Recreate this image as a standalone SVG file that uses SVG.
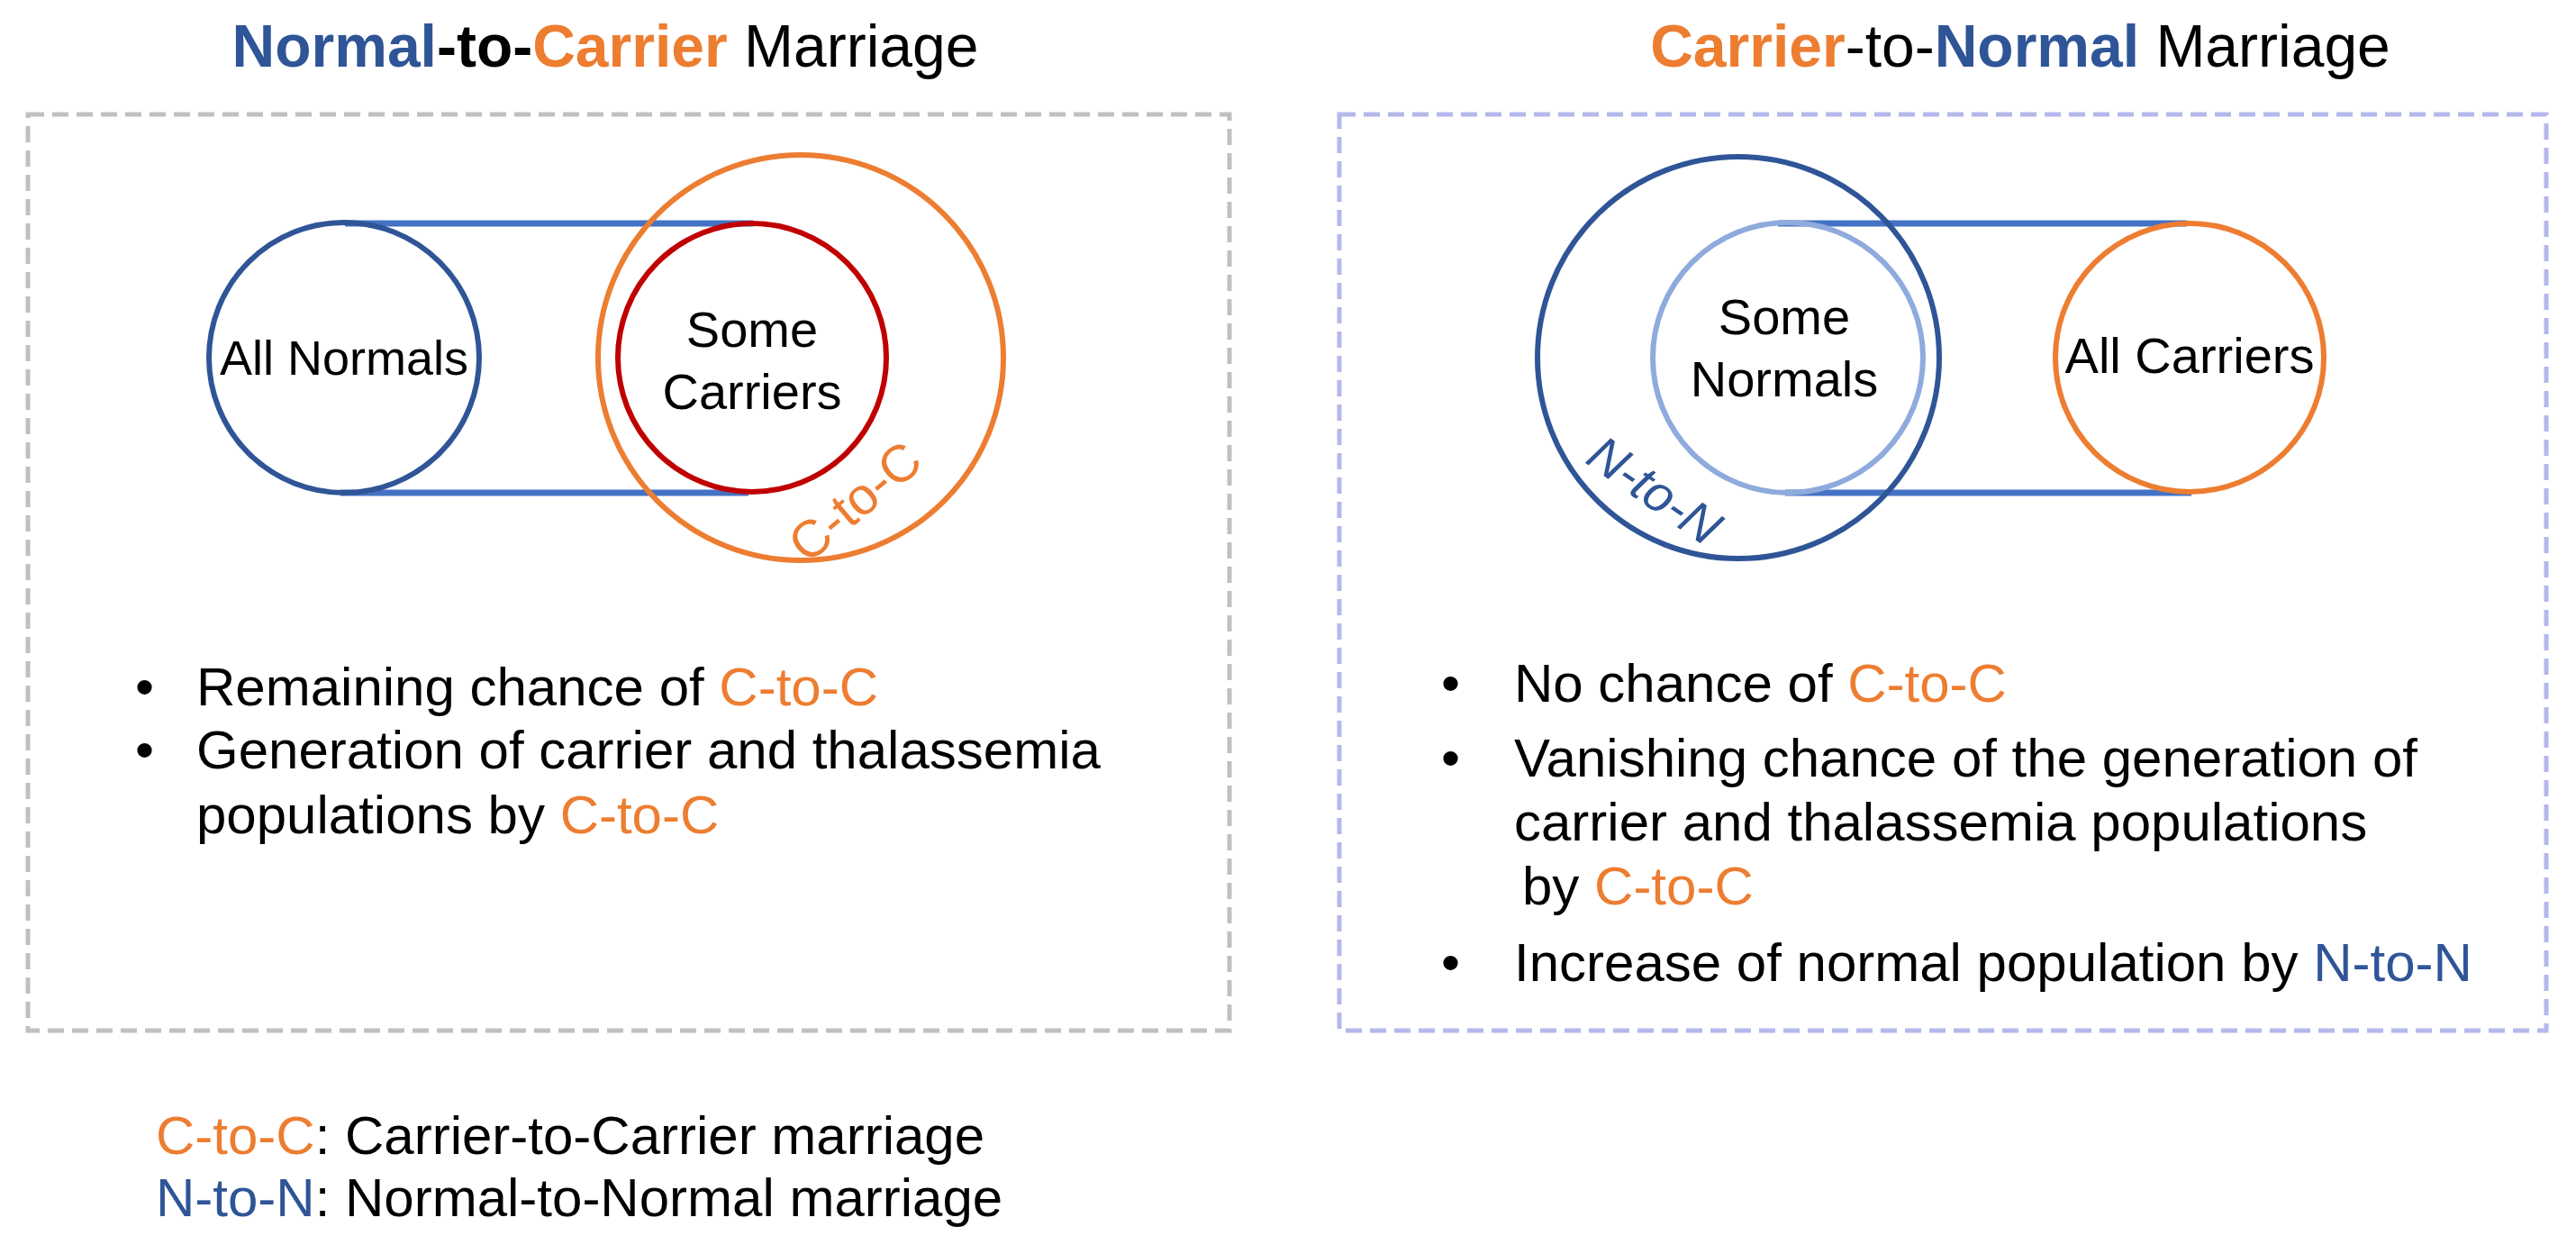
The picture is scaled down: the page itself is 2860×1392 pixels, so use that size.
<svg xmlns="http://www.w3.org/2000/svg" width="2860" height="1392" viewBox="0 0 2860 1392">
<style>
text{font-family:"Liberation Sans",Arial,sans-serif;fill:#000}
.t{font-size:66px}
.b{font-weight:bold}
.lbl{font-size:56px;text-anchor:middle}
.bul{font-size:60px}
.o{fill:#ed7d31}
.n{fill:#2f5597}
.c{fill:none;stroke-width:6}
.ln{stroke:#4472c4;stroke-width:7}
</style>
<rect width="2860" height="1392" fill="#fff"/>
<g id="titles">
<text class="t" x="672" y="74" text-anchor="middle"><tspan class="n b">Normal</tspan><tspan class="b">-to-</tspan><tspan class="o b">Carrier</tspan> Marriage</text>
<text class="t" x="2243" y="74" text-anchor="middle"><tspan class="o b">Carrier</tspan>-to-<tspan class="n b">Normal</tspan> Marriage</text>
</g>
<g id="boxes">
<rect x="31" y="127" width="1334" height="1017" fill="none" stroke="#c0c0c0" stroke-width="5" stroke-dasharray="18,9"/>
<rect x="1487" y="127" width="1340" height="1017" fill="none" stroke="#b4b8ec" stroke-width="5" stroke-dasharray="18,9"/>
</g>
<g id="connectors">
<line class="ln" x1="383" y1="248" x2="836" y2="248"/>
<line class="ln" x1="378" y1="547" x2="831" y2="547"/>
<line class="ln" x1="1974" y1="248" x2="2428" y2="248"/>
<line class="ln" x1="1982" y1="547" x2="2433" y2="547"/>
</g>
<g id="all-normals"><circle class="c" cx="382" cy="397" r="150" stroke="#2f5597"/><text class="lbl" x="382" y="416" style="font-size:54px">All Normals</text></g>
<g id="c-to-c-circle"><circle class="c" cx="889" cy="397" r="225" stroke="#ed7d31"/><text class="lbl o" x="0" y="0" transform="translate(962,572) rotate(-40)" style="font-size:58px">C-to-C</text></g>
<g id="some-carriers"><circle class="c" cx="835" cy="397" r="149" stroke="#c00000"/><text class="lbl" x="835" y="385">Some</text><text class="lbl" x="835" y="454">Carriers</text></g>
<g id="n-to-n-circle"><circle class="c" cx="1930" cy="397" r="223" stroke="#2f5597"/><text class="lbl n" x="0" y="0" transform="translate(1826,560) rotate(35)" style="font-size:56px;font-style:italic">N-to-N</text></g>
<g id="some-normals"><circle class="c" cx="1985" cy="397" r="150" stroke="#8faadc"/><text class="lbl" x="1981" y="371">Some</text><text class="lbl" x="1981" y="440">Normals</text></g>
<g id="all-carriers"><circle class="c" cx="2431" cy="397" r="149" stroke="#ed7d31"/><text class="lbl" x="2431" y="414">All Carriers</text></g>
<g id="left-bullets">
<text class="bul" x="150" y="783">•</text>
<text class="bul" x="218" y="783">Remaining chance of <tspan class="o">C-to-C</tspan></text>
<text class="bul" x="150" y="853">•</text>
<text class="bul" x="218" y="853">Generation of carrier and thalassemia</text>
<text class="bul" x="218" y="925">populations by <tspan class="o">C-to-C</tspan></text>
</g>
<g id="right-bullets">
<text class="bul" x="1600" y="779">•</text>
<text class="bul" x="1681" y="779">No chance of <tspan class="o">C-to-C</tspan></text>
<text class="bul" x="1600" y="862">•</text>
<text class="bul" x="1681" y="862">Vanishing chance of the generation of</text>
<text class="bul" x="1681" y="933">carrier and thalassemia populations</text>
<text class="bul" x="1690" y="1004">by <tspan class="o">C-to-C</tspan></text>
<text class="bul" x="1600" y="1089">•</text>
<text class="bul" x="1681" y="1089">Increase of normal population by <tspan class="n">N-to-N</tspan></text>
</g>
<g id="legend">
<text class="bul" x="173" y="1281"><tspan class="o">C-to-C</tspan>: Carrier-to-Carrier marriage</text>
<text class="bul" x="173" y="1350"><tspan class="n">N-to-N</tspan>: Normal-to-Normal marriage</text>
</g>
</svg>
